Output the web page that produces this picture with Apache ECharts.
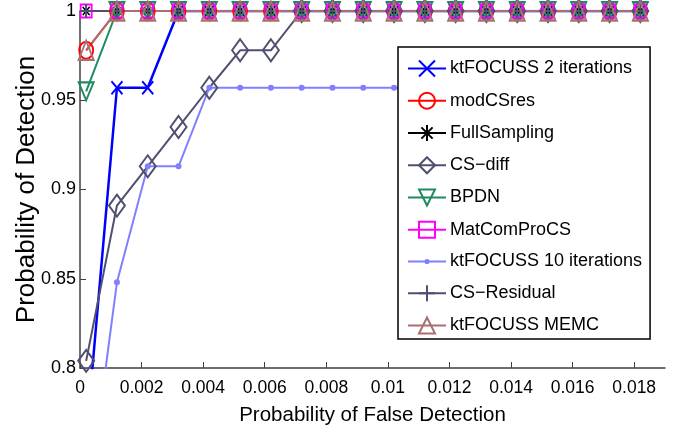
<!DOCTYPE html>
<html>
<head>
<meta charset="utf-8">
<script src="https://cdn.jsdelivr.net/npm/echarts@6/dist/echarts.min.js"></script>
<style>
    html,body{margin:0;padding:0;background:#fff;}
    #chart{width:689px;height:434px;}
</style>
</head>
<body>
<div id="chart"></div>
<script>
    // probability of false detection (x) for each point
    const xs = [0.0002, 0.0012, 0.0022, 0.0032, 0.0042, 0.0052, 0.0062, 0.0072, 0.0082, 0.0092,
                0.0102, 0.0112, 0.0122, 0.0132, 0.0142, 0.0152, 0.0162, 0.0172, 0.0182]
    const xTicks = [0, 0.002, 0.004, 0.006, 0.008, 0.01, 0.012, 0.014, 0.016, 0.018]
    const yTicks = [0.8, 0.85, 0.9, 0.95, 1]

    const ktFocuss2  = [0.76, 0.957, 0.957, 1, 1, 1, 1, 1, 1, 1, 1, 1, 1, 1, 1, 1, 1, 1, 1]
    const modCSres   = [0.978, 1, 1, 1, 1, 1, 1, 1, 1, 1, 1, 1, 1, 1, 1, 1, 1, 1, 1]
    const fullSamp   = [1, 1, 1, 1, 1, 1, 1, 1, 1, 1, 1, 1, 1, 1, 1, 1, 1, 1, 1]
    const csDiff     = [0.804, 0.891, 0.913, 0.935, 0.957, 0.978, 0.978, 1, 1, 1, 1, 1, 1, 1, 1, 1, 1, 1, 1]
    const bpdn       = [0.955, 1, 1, 1, 1, 1, 1, 1, 1, 1, 1, 1, 1, 1, 1, 1, 1, 1, 1]
    const matComPro  = [1, 1, 1, 1, 1, 1, 1, 1, 1, 1, 1, 1, 1, 1, 1, 1, 1, 1, 1]
    const ktFocuss10 = [0.717, 0.848, 0.913, 0.913, 0.957, 0.957, 0.957, 0.957, 0.957, 0.957,
                        0.957, 0.957, 0.957, 0.957, 0.957, 0.957, 0.957, 0.957, 0.957]
    const csResidual = [1, 1, 1, 1, 1, 1, 1, 1, 1, 1, 1, 1, 1, 1, 1, 1, 1, 1, 1]
    const ktMemc     = [0.978, 1, 1, 1, 1, 1, 1, 1, 1, 1, 1, 1, 1, 1, 1, 1, 1, 1, 1]

    const font = "'Liberation Sans', Arial, sans-serif"
    const CROSS = 'path://M0,0L10,10M10,0L0,10'
    const STAR = 'path://M5,0L5,10M0,5L10,5M1.5,1.5L8.5,8.5M8.5,1.5L1.5,8.5'
    const PLUS = 'path://M5,0L5,10M0,5L10,5'
    const DOT = 'path://M0,0M10,10M4,5a1,1 0 1,0 2,0a1,1 0 1,0 -2,0'

    // hollow / stroked marker series, matlab-ish
    function mk(name, vals, color, symbol, size, opts = {}){
        return {
            name,
            type: 'line',
            data: vals.map((v, i) => [xs[i], v]),
            symbol,
            symbolSize: size,
            symbolRotate: opts.rotate || 0,
            clip: true,
            lineStyle: {color, width: opts.lw || 2},
            itemStyle: {color: opts.fill || 'none', borderColor: color, borderWidth: opts.bw || 2},
            emphasis: {disabled: true}
        }
    }

    const series = [
        mk('ktFOCUSS 2 iterations', ktFocuss2, '#0000ff', CROSS, [11, 13], {lw: 2.5}),
        mk('modCSres', modCSres, '#ff0000', 'circle', [14, 17]),
        mk('FullSampling', fullSamp, '#000000', STAR, [10, 12], {bw: 1.5}),
        mk('CS\u2212diff', csDiff, '#4f4f6f', 'diamond', [16, 22]),
        mk('BPDN', bpdn, '#208a60', 'triangle', [15, 18], {rotate: 180}),
        mk('MatComProCS', matComPro, '#ff00ff', 'rect', [11, 13]),
        mk('ktFOCUSS 10 iterations', ktFocuss10, '#8080ff', DOT, 20, {fill: '#8080ff', bw: 0}),
        mk('CS\u2212Residual', csResidual, '#4f4f6f', PLUS, [12, 14]),
        mk('ktFOCUSS MEMC', ktMemc, '#a87070', 'triangle', [15, 19])
    ]

    const mychart = echarts.init(document.getElementById('chart'))
    mychart.setOption({
        animation: false,
        backgroundColor: '#fff',
        grid: {left: 80, right: 24, top: 11, bottom: 66, outerBoundsMode: 'none', containLabel: false},
        xAxis: {
            type: 'value',
            min: 0,
            max: 0.019,
            name: 'Probability of False Detection',
            nameLocation: 'middle',
            nameGap: 37,
            nameMoveOverlap: false,
            nameTextStyle: {color: '#000', fontSize: 20.5, fontFamily: font},
            axisLine: {show: true, onZero: false, lineStyle: {color: '#404040', width: 1.5}},
            axisTick: {show: true, inside: true, length: 6, customValues: xTicks, lineStyle: {color: '#404040'}},
            axisLabel: {color: '#000', fontSize: 17.5, fontFamily: font, margin: 11, customValues: xTicks},
            splitLine: {show: false}
        },
        yAxis: {
            type: 'value',
            min: 0.8,
            max: 1,
            interval: 0.05,
            name: 'Probability of Detection',
            nameLocation: 'middle',
            nameGap: 40,
            nameMoveOverlap: false,
            nameTextStyle: {color: '#000', fontSize: 26, fontFamily: font},
            axisLine: {show: true, onZero: false, lineStyle: {color: '#404040', width: 1.5}},
            axisTick: {show: true, inside: true, length: 6, customValues: yTicks, lineStyle: {color: '#404040'}},
            axisLabel: {color: '#000', fontSize: 18, fontFamily: font, margin: 4, customValues: yTicks},
            splitLine: {show: false}
        },
        legend: {
            orient: 'vertical',
            left: 398,
            top: 47,
            padding: [11, 8, 3, 9],
            itemWidth: 38,
            itemHeight: 20,
            itemGap: 11.25,
            selectedMode: false,
            backgroundColor: '#fff',
            borderColor: '#000',
            borderWidth: 1.5,
            borderRadius: 0,
            textStyle: {color: '#000', fontSize: 18, lineHeight: 20, fontFamily: font, padding: [0, 0, 0, -1]}
        },
        series
    })
</script>
</body>
</html>
